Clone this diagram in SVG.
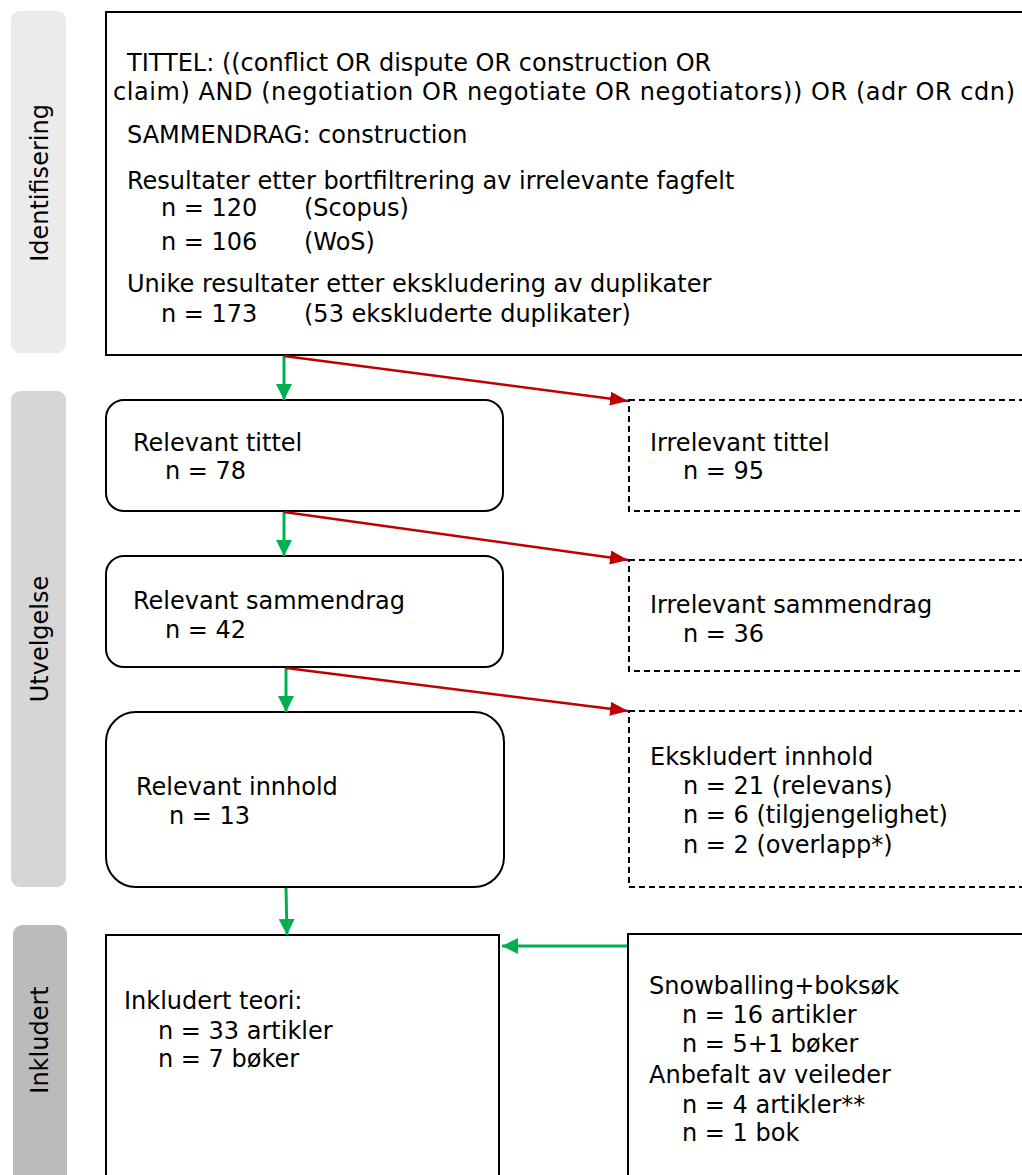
<svg xmlns="http://www.w3.org/2000/svg" width="1022" height="1175" viewBox="0 0 1022 1175">
<defs>
<marker id="ag" viewBox="0 0 16 16" refX="16" refY="8" markerWidth="16" markerHeight="16" markerUnits="userSpaceOnUse" orient="auto"><path d="M0,0 L16,8 L0,16 z" fill="#00b050"/></marker>
<marker id="ar" viewBox="0 0 18 14" refX="18" refY="7" markerWidth="18" markerHeight="14" markerUnits="userSpaceOnUse" orient="auto"><path d="M0,0 L18,7 L0,14 z" fill="#c00000"/></marker>
</defs>
<style>
text{font-family:"DejaVu Sans",Verdana,sans-serif;font-size:24px;fill:#000}
.box{fill:#fff;stroke:#000;stroke-width:2}
.dash{fill:#fff;stroke:#000;stroke-width:2;stroke-dasharray:6,4}
.g{stroke:#00b050;stroke-width:3;fill:none;marker-end:url(#ag)}
.r{stroke:#c00000;stroke-width:2.5;fill:none;marker-end:url(#ar)}
</style>
<rect width="1022" height="1175" fill="#fff"/>
<g id="lane1"><rect x="11" y="11" width="55" height="342" rx="9" fill="#ebebeb"/><text transform="translate(48,183) rotate(-90)" text-anchor="middle">Identifisering</text></g>
<g id="lane2"><rect x="11" y="391" width="55" height="496" rx="9" fill="#d6d6d6"/><text transform="translate(48,639) rotate(-90)" text-anchor="middle">Utvelgelse</text></g>
<g id="lane3"><rect x="13" y="925" width="54" height="260" rx="9" fill="#bbbbbb"/><text transform="translate(48,1040) rotate(-90)" text-anchor="middle">Inkludert</text></g>

<g id="identifisering"><rect class="box" x="106" y="12" width="930" height="343"/>
<text x="127" y="71">TITTEL: ((conflict OR dispute OR construction OR</text>
<text x="113" y="100" textLength="902" lengthAdjust="spacing">claim) AND (negotiation OR negotiate OR negotiators)) OR (adr OR cdn)</text>
<text x="127" y="143">SAMMENDRAG: construction</text>
<text x="127" y="189">Resultater etter bortfiltrering av irrelevante fagfelt</text>
<text x="161" y="216">n = 120</text><text x="304" y="216">(Scopus)</text>
<text x="161" y="250">n = 106</text><text x="304" y="250">(WoS)</text>
<text x="127" y="292">Unike resultater etter ekskludering av duplikater</text>
<text x="161" y="322">n = 173</text><text x="304" y="322">(53 ekskluderte duplikater)</text>
</g>
<g id="relevant-tittel"><rect class="box" x="106" y="400" width="397" height="111" rx="18"/><text x="133" y="451">Relevant tittel</text><text x="165" y="479">n = 78</text></g>
<g id="irrelevant-tittel"><rect class="dash" x="629" y="400" width="410" height="111"/><text x="650" y="451">Irrelevant tittel</text><text x="683" y="479">n = 95</text></g>
<g id="relevant-sammendrag"><rect class="box" x="106" y="556" width="397" height="111" rx="18"/><text x="133" y="609">Relevant sammendrag</text><text x="165" y="638">n = 42</text></g>
<g id="irrelevant-sammendrag"><rect class="dash" x="629" y="560" width="410" height="111"/><text x="650" y="613">Irrelevant sammendrag</text><text x="683" y="642">n = 36</text></g>
<g id="relevant-innhold"><rect class="box" x="106" y="712" width="398" height="175" rx="30"/><text x="136" y="795">Relevant innhold</text><text x="169" y="824">n = 13</text></g>
<g id="ekskludert-innhold"><rect class="dash" x="629" y="711" width="410" height="176"/><text x="650" y="765">Ekskludert innhold</text><text x="683" y="794">n = 21 (relevans)</text><text x="683" y="823">n = 6 (tilgjengelighet)</text><text x="683" y="853">n = 2 (overlapp*)</text></g>
<g id="inkludert-teori"><rect class="box" x="106" y="935" width="393" height="260"/><text x="124" y="1009">Inkludert teori:</text><text x="158" y="1039">n = 33 artikler</text><text x="158" y="1067">n = 7 bøker</text></g>
<g id="snowballing"><rect class="box" x="628" y="934" width="410" height="260"/><text x="649" y="994">Snowballing+boksøk</text><text x="682" y="1023">n = 16 artikler</text><text x="682" y="1052">n = 5+1 bøker</text><text x="649" y="1083">Anbefalt av veileder</text><text x="682" y="1113">n = 4 artikler**</text><text x="682" y="1141">n = 1 bok</text></g>

<g id="connectors">
<line class="g" x1="284" y1="356" x2="284" y2="400"/>
<line class="r" x1="284" y1="356" x2="628" y2="401"/>
<line class="g" x1="284" y1="512" x2="284" y2="556"/>
<line class="r" x1="284" y1="512" x2="628" y2="560"/>
<line class="g" x1="286" y1="668" x2="286" y2="712"/>
<line class="r" x1="286" y1="668" x2="628" y2="711"/>
<line class="g" x1="286" y1="888" x2="287" y2="935"/>
<line class="g" x1="627" y1="946" x2="502" y2="946"/>
</g>
</svg>
